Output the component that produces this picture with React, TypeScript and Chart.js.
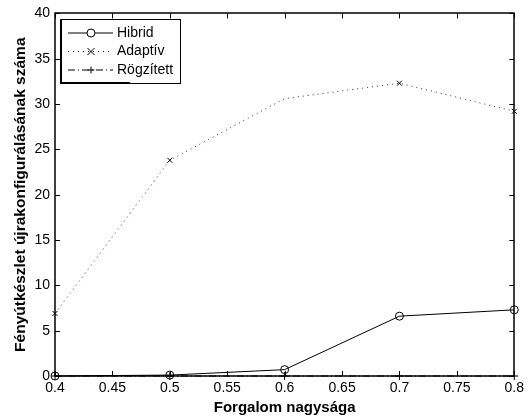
import React, { useEffect, useRef } from "react";
import { Chart, registerables } from "chart.js";

Chart.register(...registerables);

const xValues = [0.4, 0.5, 0.6, 0.7, 0.8];
const hibrid = [0, 0.1, 0.7, 6.6, 7.3];
const adaptiv = [6.9, 23.8, 30.6, 32.3, 29.2];
const rogzitett = [0, 0, 0, 0, 0];
const seriesNames = ["Hibrid", "Adaptív", "Rögzített"];
const xTitle = "Forgalom nagysága";
const yTitle = "Fényútkészlet újrakonfigurálásának száma";

const FONT = "'Liberation Sans', Arial, Helvetica, sans-serif";

function drawMarker(ctx: CanvasRenderingContext2D, style: string, x: number, y: number, r: number) {
  ctx.beginPath();
  if (style === "circle") {
    ctx.arc(x, y, r, 0, Math.PI * 2);
  } else if (style === "crossRot") {
    ctx.moveTo(x - r, y - r); ctx.lineTo(x + r, y + r);
    ctx.moveTo(x - r, y + r); ctx.lineTo(x + r, y - r);
  } else {
    ctx.moveTo(x - r, y); ctx.lineTo(x + r, y);
    ctx.moveTo(x, y - r); ctx.lineTo(x, y + r);
  }
  ctx.stroke();
}

const framePlugin = {
  id: "frame",
  afterDraw(chart: any) {
    const ctx: CanvasRenderingContext2D = chart.ctx;
    const { left, right, top, bottom } = chart.chartArea;
    const xs = chart.scales.x;
    const ys = chart.scales.y;
    ctx.save();
    ctx.strokeStyle = "#000";
    ctx.lineWidth = 1;
    const tl = 5;
    xs.ticks.forEach((t: any) => {
      const px = Math.round(xs.getPixelForValue(t.value)) + 0.5;
      ctx.beginPath();
      ctx.moveTo(px, bottom); ctx.lineTo(px, bottom - tl);
      ctx.moveTo(px, top); ctx.lineTo(px, top + tl);
      ctx.stroke();
    });
    ys.ticks.forEach((t: any) => {
      const py = Math.round(ys.getPixelForValue(t.value)) + 0.5;
      ctx.beginPath();
      ctx.moveTo(left, py); ctx.lineTo(left + tl, py);
      ctx.moveTo(right, py); ctx.lineTo(right - tl, py);
      ctx.stroke();
    });
    ctx.lineWidth = 1.5;
    ctx.strokeRect(Math.round(left), Math.round(top), Math.round(right - left), Math.round(bottom - top));

    // legend
    const lx = 60, ly = 19, lw = 120, lh = 64;
    ctx.fillStyle = "#fff";
    ctx.fillRect(lx, ly, lw, lh);
    ctx.lineWidth = 1;
    ctx.strokeRect(lx + 0.5, ly + 0.5, lw, lh);
    ctx.lineWidth = 2;
    ctx.beginPath();
    ctx.moveTo(lx + 1, ly + 1); ctx.lineTo(lx + 1, ly + lh); ctx.lineTo(lx + lw / 2 + 10, ly + lh);
    ctx.stroke();
    const rows = [33, 51.5, 70];
    chart.data.datasets.forEach((ds: any, i: number) => {
      const y = rows[i];
      ctx.lineWidth = 1;
      ctx.strokeStyle = "#000";
      ctx.setLineDash(ds.borderDash || []);
      ctx.beginPath();
      ctx.moveTo(68, y); ctx.lineTo(113, y);
      ctx.stroke();
      ctx.setLineDash([]);
      ctx.fillStyle = "#fff";
      if (ds.pointStyle === "circle") {
        ctx.beginPath(); ctx.arc(91, y, 4, 0, Math.PI * 2); ctx.fill();
      }
      drawMarker(ctx, ds.pointStyle, 91, y, ds.pointStyle === "circle" ? 4 : 3.5);
      ctx.fillStyle = "#000";
      ctx.font = `14px ${FONT}`;
      ctx.textBaseline = "middle";
      ctx.textAlign = "left";
      ctx.fillText(ds.label, 117, y);
    });
    ctx.restore();
  },
};

export default function App() {
  const ref = useRef<HTMLCanvasElement>(null);
  useEffect(() => {
    if (!ref.current) return;
    const mk = (arr: number[]) => xValues.map((x, i) => ({ x, y: arr[i] }));
    const chart = new Chart(ref.current, {
      type: "line",
      data: {
        datasets: [
          {
            label: seriesNames[0],
            data: mk(hibrid),
            borderColor: "#000",
            borderWidth: 1,
            pointStyle: "circle",
            pointRadius: 4,
            pointBorderWidth: 1,
            pointBorderColor: "#000",
            pointBackgroundColor: "rgba(0,0,0,0)",
            clip: false,
            order: 1,
          },
          {
            label: seriesNames[1],
            data: mk(adaptiv),
            borderColor: "#333",
            borderWidth: 1,
            borderDash: [1, 4],
            pointStyle: "crossRot",
            pointRadius: [3.5, 3.5, 0, 3.5, 3.5],
            pointBorderWidth: 1,
            pointBorderColor: "#000",
            clip: false,
            order: 2,
          },
          {
            label: seriesNames[2],
            data: mk(rogzitett),
            borderColor: "#000",
            borderWidth: 1,
            borderDash: [7, 3, 1, 3],
            pointStyle: "cross",
            pointRadius: 4,
            pointBorderWidth: 1,
            pointBorderColor: "#000",
            clip: false,
            order: 3,
          },
        ],
      },
      options: {
        animation: false,
        responsive: false,
        devicePixelRatio: 1,
        layout: { padding: { left: 0, top: 12, right: 10, bottom: 0 } },
        plugins: { legend: { display: false }, tooltip: { enabled: false } },
        elements: { line: { tension: 0 } },
        scales: {
          x: {
            type: "linear",
            min: 0.4,
            max: 0.8,
            grid: { display: false, drawTicks: false },
            border: { display: false },
            ticks: {
              stepSize: 0.05,
              color: "#000",
              padding: 4,
              maxRotation: 0,
              font: { family: FONT, size: 14 },
              callback: (v: any) => String(Number(Number(v).toFixed(2))),
            },
            title: {
              display: true,
              text: xTitle,
              color: "#000",
              font: { family: FONT, size: 15, weight: "bold" },
              padding: { top: 0, bottom: 3 },
            },
            afterFit: (s: any) => { s.height = 44; },
          },
          y: {
            min: 0,
            max: 40,
            grid: { display: false, drawTicks: false },
            border: { display: false },
            ticks: {
              stepSize: 5,
              color: "#000",
              padding: 5,
              font: { family: FONT, size: 14 },
            },
            title: {
              display: true,
              text: yTitle,
              color: "#000",
              font: { family: FONT, size: 15.5, weight: "bold" },
              padding: { top: 11, bottom: 0 },
            },
            afterFit: (s: any) => { s.width = 55; },
          },
        },
      },
      plugins: [framePlugin],
    });
    return () => chart.destroy();
  }, []);
  return (
    <div style={{ position: "fixed", left: 0, top: 0, width: 528, height: 420, background: "#fff" }}>
      <canvas ref={ref} width={528} height={420} style={{ display: "block" }} />
    </div>
  );
}
